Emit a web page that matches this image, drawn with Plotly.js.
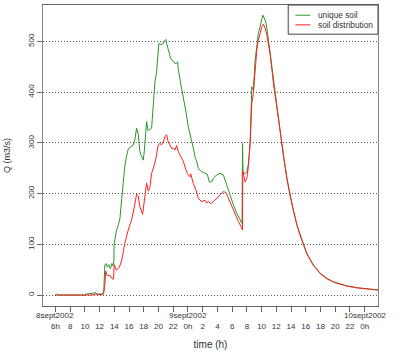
<!DOCTYPE html>
<html>
<head>
<meta charset="utf-8">
<script src="https://cdn.plot.ly/plotly-3.0.1.min.js"></script>
<style>html,body{margin:0;padding:0;background:#fff;}#chart{width:400px;height:353px;}</style>
</head>
<body>
<div id="chart"></div>
<script>
// time in hours from 8 sept 2002 0h
const uniqueHours = [6.0,6.1,6.3,10.0,10.2,11.07,11.35,11.62,12.44,12.57,12.71,12.84,13.05,13.25,13.46,13.66,13.8,13.93,13.97,14.07,14.3,14.48,14.75,15.2,15.43,15.66,15.88,16.11,16.56,16.79,17.02,17.24,17.47,17.7,17.92,18.08,18.38,18.56,18.69,19.06,19.28,19.51,19.74,19.96,20.05,20.33,20.64,20.87,21.0,21.1,21.32,21.65,22.0,22.37,22.6,22.68,23.0,23.36,23.77,24.04,24.27,24.5,24.72,24.95,25.18,25.4,25.63,25.86,26.31,26.63,26.9,27.22,27.44,27.9,28.35,28.8,29.27,29.71,30.16,30.63,31.07,31.35,31.41,31.48,31.76,31.99,32.23,32.44,32.67,32.88,33.12,33.35,33.56,33.79,34.03,34.16,34.38,34.61,34.93,35.16,35.39,35.61,36.07,36.52,36.97,37.43,37.88,38.33,38.79,39.24,39.69,40.15,40.6,41.05,41.96,42.87,43.77,44.68,45.59,46.95,48.31,49.67,49.85];
const uniqueQ = [0,2,0,0,2,3,5,2,2,10,59,62,55,60,52,62,58,65,100,112,128,135,150,220,255,273,288,291,296,306,329,318,283,273,266,285,342,325,325,329,385,420,440,488,496,494,496,502,504,496,485,467,460,456,460,446,418,393,358,332,319,307,290,273,264,250,247,243,240,238,223,223,230,237,240,237,217,197,178,161,148,141,299,240,240,243,260,300,411,404,463,496,516,529,546,552,546,536,503,477,447,418,371,322,273,231,196,165,139,118,100,82,70,59,43,33,26,22,18,14.5,12,10,9.8];

const distribHours = [6.0,11.0,11.4,11.7,12.44,12.57,12.71,12.84,12.98,13.16,13.39,13.62,13.84,13.93,13.97,14.14,14.3,14.52,14.68,14.98,15.43,15.88,16.34,16.69,17.02,17.24,17.47,17.84,18.15,18.38,18.6,18.83,19.06,19.37,19.65,19.96,20.19,20.42,20.64,20.87,21.1,21.32,21.55,21.78,22.0,22.23,22.46,22.68,23.0,23.36,23.59,23.9,24.27,24.37,24.72,25.09,25.4,25.86,26.31,26.54,26.76,27.09,27.44,27.9,28.35,28.8,29.17,29.48,29.95,30.39,30.84,31.31,31.4,31.44,31.76,31.99,32.2,32.44,32.67,32.88,33.12,33.35,33.56,33.79,34.03,34.25,34.48,34.71,34.93,35.16,35.39,35.61,36.07,36.52,36.97,37.43,37.88,38.33,38.79,39.24,39.69,40.15,40.6,41.05,41.96,42.87,43.77,44.68,45.59,46.95,48.31,49.67,49.85];
const distribQ = [0,0,2,1,1,5,20,47,40,38,39,33,31,40,60,55,49,52,55,67,102,128,148,172,199,196,174,159,190,221,205,212,240,253,270,296,299,296,302,312,316,302,296,289,290,286,295,283,274,264,253,240,233,239,220,207,191,184,187,181,185,180,184,191,197,204,202,191,174,158,145,132,128,245,223,230,253,299,378,398,450,483,503,516,529,534,526,513,496,475,446,417,370,321,272,230,195,164,138,117,99,81,69,58,42,32,25.5,21.5,17.5,14,11.5,9.8,9.6];

const tickHours = [6,8,10,12,14,16,18,20,22,24,26,28,30,32,34,36,38,40,42,44,46,48];
const tickLabels = ["6h","8","10","12","14","16","18","20","22","0h","2","4","6","8","10","12","14","16","18","20","22","0h"];
const dateHours = [6,24,48];
const dateLabels = ["8sept2002","9sept2002","10sept2002"];
const yTicks = [0,100,200,300,400,500];
const seriesNames = ['unique soil', 'soil distribution'];
const seriesColors = ['#2a962a', '#ff2020'];

const font = "Liberation Sans, Arial, sans-serif";

const traces = [
  {x: uniqueHours, y: uniqueQ, type: 'scatter', mode: 'lines', name: seriesNames[0],
   line: {color: seriesColors[0], width: 1}},
  {x: distribHours, y: distribQ, type: 'scatter', mode: 'lines', name: seriesNames[1],
   line: {color: seriesColors[1], width: 1}}
];

const annotations = dateHours.map((h, i) => ({
  x: h, y: -0.033, xref: 'x', yref: 'paper', text: dateLabels[i], showarrow: false,
  xanchor: 'center', yanchor: 'middle', font: {family: font, size: 8, color: '#333'}
}));

// manual legend (compact, like the original)
const legY = [0.966, 0.934];
const shapes = [
  {type: 'rect', xref: 'paper', yref: 'paper', x0: 0.732, x1: 1, y0: 0.903, y1: 1,
   line: {color: '#444', width: 1}, fillcolor: '#fff', layer: 'above'}
];
seriesNames.forEach((n, i) => {
  shapes.push({type: 'line', xref: 'paper', yref: 'paper', x0: 0.753, x1: 0.798,
    y0: legY[i], y1: legY[i], line: {color: seriesColors[i], width: 1}, layer: 'above'});
  annotations.push({x: 0.816, y: legY[i], xref: 'paper', yref: 'paper', text: n,
    showarrow: false, xanchor: 'left', yanchor: 'middle',
    font: {family: font, size: 8.3, color: '#333'}});
});

const layout = {
  width: 400, height: 353,
  margin: {l: 43, r: 22, t: 5, b: 47},
  paper_bgcolor: '#fff', plot_bgcolor: '#fff',
  showlegend: false,
  xaxis: {range: [4.31, 49.81], tickmode: 'array', tickvals: tickHours, ticktext: tickLabels,
    ticks: 'outside', ticklen: 5, tickcolor: '#666', tickfont: {family: font, size: 8, color: '#333'},
    ticklabelstandoff: 7, showgrid: false, zeroline: false, showline: true, linecolor: '#666',
    mirror: true, title: {text: 'time (h)', font: {family: font, size: 10, color: '#333'}, standoff: 11}},
  yaxis: {range: [-21.7, 572], tickmode: 'array', tickvals: yTicks, tickangle: -90,
    ticks: 'outside', ticklen: 5, tickcolor: '#666', tickfont: {family: font, size: 8, color: '#333'},
    showgrid: true, gridcolor: '#555', griddash: '1px,2px', gridwidth: 1, zeroline: false,
    showline: true, linecolor: '#888', mirror: true,
    title: {text: 'Q (m3/s)', font: {family: font, size: 9, color: '#333'}, standoff: 14}},
  annotations: annotations,
  shapes: shapes
};

Plotly.newPlot('chart', traces, layout, {displayModeBar: false, staticPlot: true});
</script>
</body>
</html>
